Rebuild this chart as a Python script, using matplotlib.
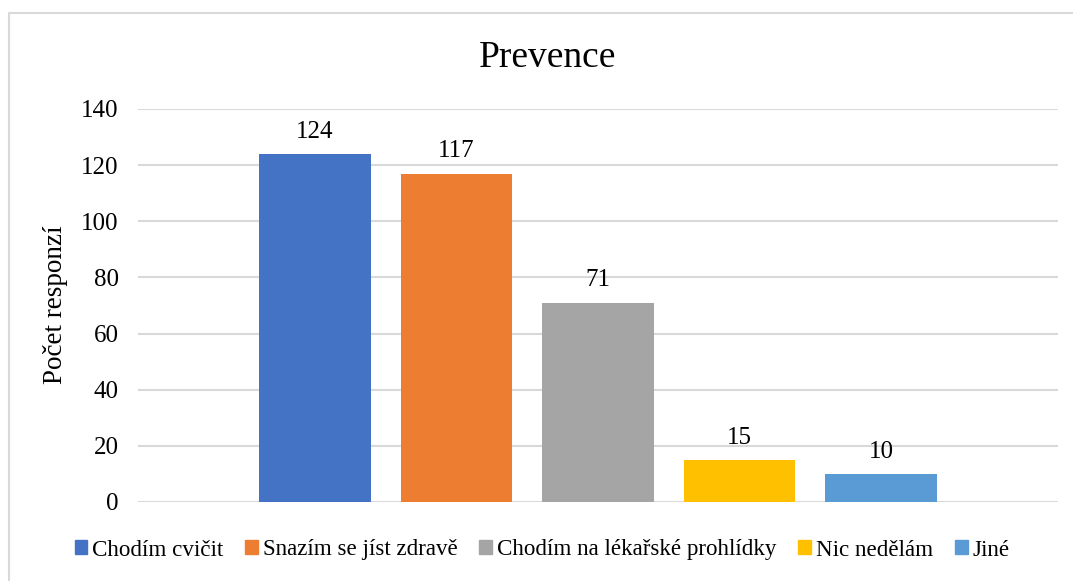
import matplotlib.pyplot as plt
from matplotlib.patches import Rectangle
from matplotlib.lines import Line2D

# data
categories = ["Chodím cvičit", "Snazím se jíst zdravě", "Chodím na lékařské prohlídky",
              "Nic nedělám", "Jiné"]
values = [124, 117, 71, 15, 10]
colors = ["#4472C4", "#ED7D31", "#A5A5A5", "#FFC000", "#5B9BD5"]
yticks = [0, 20, 40, 60, 80, 100, 120, 140]

plt.rcParams['font.family'] = ['Liberation Serif', 'DejaVu Serif']

W, H = 1073, 581
fig = plt.figure(figsize=(W / 100, H / 100), dpi=100)
ax = fig.add_axes([138 / W, (H - 502) / H, (1058 - 138) / W, (502 - 109) / H])

# chart border (only top and left edges are inside the image)
fig.lines.append(Line2D([9 / W, 9 / W, 1], [0, 1 - 13 / H, 1 - 13 / H],
                        transform=fig.transFigure, color="#D9D9D9", linewidth=1.5))

x = list(range(len(values)))
ax.bar(x, values, width=0.79, color=colors, zorder=2)
for xi, v in zip(x, values):
    ax.text(xi, v + 4, str(v), ha="center", va="bottom", fontsize=18)

ax.set_xlim(-1.25, 5.25)
ax.set_ylim(0, 140)
ax.set_yticks(yticks)
ax.set_xticks([])
ax.tick_params(axis="y", length=0, labelsize=18, pad=14)
ax.yaxis.grid(True, color="#D9D9D9", linewidth=1.5, zorder=0)
for s in ax.spines.values():
    s.set_visible(False)

fig.text(56 / W, 1 - 305 / H, "Počet responzí", rotation=90, ha="center", va="center",
         fontsize=19.5)
fig.text(548 / W, 1 - 58 / H, "Prevence", ha="center", va="center", fontsize=27)

handles = [Rectangle((0, 0), 1, 1, color=c) for c in colors]
fig.legend(handles, categories, loc="center", bbox_to_anchor=(542 / W, 1 - 550 / H),
           ncol=5, frameon=False, fontsize=16.6, handlelength=0.56, handleheight=0.56,
           handletextpad=0.2, columnspacing=0.95)

fig.savefig("out.png", dpi=100)
